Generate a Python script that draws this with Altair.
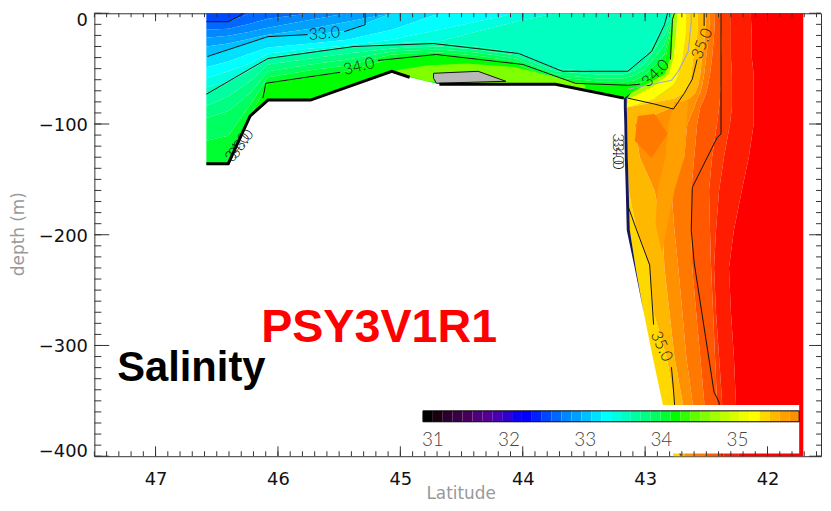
import altair as alt
import pandas as pd

# ---------------- colour levels (as on the colour bar) ----------------
LEVELS = [30.87, 31.00, 31.13, 31.26, 31.39, 31.52, 31.65, 31.78, 31.91, 32.04,
          32.17, 32.30, 32.43, 32.56, 32.69, 32.82, 32.95, 33.08, 33.21, 33.34,
          33.47, 33.60, 33.73, 33.86, 33.99, 34.12, 34.25, 34.38, 34.51, 34.64,
          34.77, 34.90, 35.03, 35.16, 35.29, 35.42, 35.55, 35.68]
BAR_END = 35.81
PALETTE = ["#000000", "#1a0010", "#2b0030", "#3a0045", "#46005a", "#50007a", "#550090", "#4a00b0", "#3000d0", "#1000f0",
           "#0000ff", "#0020ff", "#0048ff", "#0068ff", "#0088ff", "#00a0ff", "#00c0ff", "#00e0ff", "#00ffff", "#00ffe0",
           "#00ffc0", "#00ffa0", "#00ff80", "#00ff60", "#00ff30", "#00ff00", "#30ff00", "#60ff00", "#80ff00", "#a0ff00",
           "#c0ff00", "#d8ff00", "#f0ff00", "#ffff00", "#ffd800", "#ffb800", "#ffa000", "#ff9000"]
EXTRA_LEVELS = [35.81, 35.94, 36.07, 36.20, 36.33]
EXTRA_COLORS = ["#ff7800", "#ff5800", "#ff3c00", "#ff1c00", "#ff0000"]
CBAR_LABELS = [31, 32, 33, 34, 35]

# ---------------- shelf: iso-salinity layers (depth at each latitude node) ----------------
SHELF_LAT = [46.585, 46.406, 46.228, 46.082, 45.734, 45.434, 45.070, 44.924, 44.681, 44.381,
             44.057, 43.733, 43.409, 43.174, 43.085, 43.004, 42.923, 42.842, 42.761]
SURF = [0.0] * 19
A = [-7.6, -7.6] + [0.0] * 17
A2 = [-14.8, -13.9, -9.4, -4.9] + [0.0] * 15
A3 = [-22.0, -20.2, -16.6, -13.0, -5.8] + [0.0] * 14
A4 = [-30.0, -27.3, -22.9, -19.3, -13.9, -7.6] + [0.0] * 13
B = [-39.0, -32.7, -26.4, -21.1, -19.3, -15.7] + [0.0] * 13
G = [-48.8, -43.5, -36.3, -30.9, -27.3, -23.8, -14.8, -9.4] + [0.0] * 11
F = [-58.7, -52.4, -45.3, -36.3, -31.8, -29.1, -23.8, -20.2, -14.8, -7.6] + [0.0] * 9
F2 = [-66.8, -61.4, -50.7, -39.9, -34.5, -30.0, -27.3, -26.4, -25.5, -16.6, -7.6] + [0.0] * 8
C = [-73.1, -62.3, -51.5, -40.8, -35.4, -30.9, -29.1, -28.2, -27.3, -30.0,
     -35.4, -49.8, -52.4, -52.4, -47.1, -39.9, -25.5, -10.3, 0.0]
C2 = [-83.8, -74.9, -61.4, -46.2, -40.8, -36.3, -31.8, -30.9, -30.0, -32.7,
      -38.1, -52.4, -55.1, -55.1, -51.5, -45.3, -32.7, -19.3, 0.0]
E = [-94.6, -88.3, -72.2, -52.4, -46.2, -41.7, -34.5, -33.6, -32.7, -35.4,
     -40.8, -55.1, -58.7, -58.7, -56.0, -50.7, -39.9, -28.2, 0.0]
E2 = [-115.2, -110.7, -82.9, -57.8, -51.5, -47.1, -37.2, -36.3, -35.4, -38.1,
      -43.5, -57.8, -61.4, -62.3, -60.5, -56.0, -47.1, -37.2, 0.0]
D = [-135.8, -135.8, -92.8, -63.2, -57.8, -52.4, -40.8, -39.9, -37.2, -40.8,
     -45.3, -60.5, -64.1, -65.0, -64.1, -61.4, -54.2, -45.3, 0.0]
BOTTOM = [-135.8, -135.8, -92.8, -78.4, -78.4, -66.8, -52.4, -57.8, -64.1, -64.1,
          -64.1, -64.1, -71.3, -76.6, -76.6, -76.6, -76.6, -76.6, -76.6]
SHELF_BOUNDS = [SURF, A, A2, A3, A4, B, G, F, F2, C, C2, E, E2, D, BOTTOM]
SHELF_SAL = [32.49, 32.62, 32.75, 32.88, 33.01, 33.14, 33.27, 33.40, 33.53, 33.66, 33.79, 33.92, 34.05, 34.18]

# small patches on the shelf
YG_LAT = [45.029, 44.786, 44.462, 44.057, 43.733, 43.490]
YG_TOP = [-51.5, -47.1, -45.3, -48.8, -57.8, -65.0]
YG_BOT = [-54.0, -61.4, -64.1, -64.1, -64.1, -69.1]
YG_SAL = 34.57
GRAY_LAT = [44.729, 44.705, 44.365, 44.138]
GRAY_TOP = [-54.2, -54.1, -52.4, -61.4]
GRAY_BOT = [-58.7, -63.2, -62.3, -61.4]

# ---------------- slope: bands (latitude of each band edge at each depth) ----------------
SLOPE_DEPTH = [0, -20, -40, -55, -65, -72, -77, -85, -100, -130, -160, -196, -230, -270, -310, -350, -400]
SS = [42.777, 42.777, 42.793, 42.842, 43.004, 43.117, 43.174, 43.174, 43.170, 43.166, 43.158, 43.150, 43.085, 43.012, 42.939, 42.862, 42.769]
B0E = [42.777, 42.777, 42.793, 42.842, 43.004, 43.117, 43.150, 43.150, 43.146, 43.142, 43.134, 43.125, 43.077, 43.012, 42.939, 42.862, 42.769]
B1E = [42.737, 42.745, 42.769, 42.809, 42.923, 43.044, 43.134, 43.150, 43.146, 43.142, 43.134, 43.125, 43.077, 43.012, 42.939, 42.862, 42.769]
B2E = [42.664, 42.672, 42.696, 42.729, 42.769, 42.858, 42.923, 43.150, 43.146, 43.142, 43.134, 43.125, 43.077, 43.012, 42.939, 42.862, 42.769]
B3E = [42.567, 42.575, 42.607, 42.623, 42.639, 42.680, 42.761, 43.150, 43.146, 43.142, 43.134, 43.069, 42.963, 42.931, 42.826, 42.761, 42.712]
B4E = [42.502, 42.510, 42.534, 42.550, 42.567, 42.591, 42.639, 42.785, 43.085, 43.044, 42.923, 42.858, 42.842, 42.801, 42.761, 42.696, 42.680]
B5E = [42.470, 42.478, 42.502, 42.518, 42.534, 42.550, 42.575, 42.599, 42.656, 42.680, 42.785, 42.761, 42.729, 42.696, 42.664, 42.615, 42.599]
B6E = [42.429, 42.437, 42.453, 42.470, 42.486, 42.502, 42.518, 42.550, 42.575, 42.599, 42.623, 42.623, 42.615, 42.583, 42.550, 42.518, 42.502]
B7E = [42.372, 42.372, 42.380, 42.380, 42.380, 42.388, 42.388, 42.396, 42.413, 42.453, 42.478, 42.470, 42.461, 42.445, 42.429, 42.413, 42.396]
B8E = [42.299, 42.299, 42.299, 42.291, 42.291, 42.291, 42.291, 42.291, 42.307, 42.356, 42.396, 42.421, 42.437, 42.421, 42.396, 42.372, 42.356]
B9E = [42.137, 42.129, 42.129, 42.113, 42.113, 42.113, 42.113, 42.113, 42.113, 42.153, 42.210, 42.275, 42.315, 42.299, 42.275, 42.259, 42.234]
B10E = [41.708] * 17
SLOPE_BOUNDS = [B0E, B1E, B2E, B3E, B4E, B5E, B6E, B7E, B8E, B9E, B10E]
SLOPE_SAL = [34.70, 35.22, 35.35, 35.48, 35.74, 35.87, 36.00, 36.13, 36.26, 36.40]
EDGE_COLOR = "#16165a"

# lighter orange tongue in the upper slope
TG_DEPTH = [-80, -100, -130, -160, -190, -215]
TG_LEFT = [42.761, 42.809, 42.834, 42.899, 42.915, 42.866]
TG_RIGHT = [42.648, 42.664, 42.680, 42.761, 42.817, 42.858]
TG_SAL = 35.61

# darker orange patch in the upper slope
SP_LAT = [43.085, 43.060, 42.947, 42.923, 42.817]
SP_TOP = [-115.2, -92.8, -91.2, -91.0, -108.9]
SP_BOT = [-115.2, -117.9, -130.4, -126.4, -108.9]
SP_SAL = 35.87

# ---------------- contour lines ----------------
CONTOURS = {
    "a": [(46.585, -7.6), (46.406, -7.6), (46.325, -3.1), (46.285, 0.0)],
    "b1": [(46.576, -39.0), (46.082, -21.1), (45.758, -19.3)],
    "b2": [(45.459, -16.6), (45.288, -10.3), (45.288, 0.0)],
    "c": [(46.585, -73.1), (46.082, -40.8), (45.677, -34.5), (45.378, -30.0), (44.729, -27.3), (44.033, -36.3),
          (43.676, -52.4), (43.142, -52.4), (42.947, -34.5), (42.842, -10.3), (42.817, 0.0)],
    "d1": [(46.123, -76.6), (46.099, -63.2), (45.491, -53.3)],
    "d2": [(45.183, -42.6), (44.705, -37.2), (44.000, -46.2), (43.571, -63.2), (43.142, -65.0), (43.044, -64.1)],
    "d3": [(42.793, -41.7), (42.777, -5.8), (42.761, 0.0)],
    "s1": [(42.518, 0.0), (42.518, -11.5)],
    "s2": [(42.575, -41.7), (42.615, -59.6), (42.680, -72.2), (42.769, -86.5), (42.923, -82.0), (43.142, -76.6)],
    "s3": [(43.142, -173.5), (43.069, -196.0), (42.963, -227.3), (42.931, -281.1)],
    "s4": [(42.785, -319.6), (42.769, -339.3), (42.745, -375.2), (42.712, -399.4)],
    "t1": [(42.380, 0.0), (42.380, -108.9), (42.413, -112.5), (42.615, -157.3), (42.623, -195.9),
           (42.599, -225.5), (42.437, -342.1), (42.396, -351.1), (42.372, -399.4)],
    "gp": [(44.729, -54.2), (44.365, -52.4), (44.138, -61.4), (44.705, -63.2), (44.729, -58.7), (44.729, -54.2)],
}
GRAY_CONTOUR = [(43.142, -68.6), (42.785, -60.5), (42.729, -52.4), (42.648, -34.5), (42.623, -7.6), (42.623, 0.0)]
SEABED = {
    "w1": [(46.585, -135.8), (46.406, -135.8), (46.228, -92.8), (46.082, -78.4), (45.734, -78.4), (45.070, -52.4), (44.924, -57.8)],
    "w2": [(44.681, -64.1), (43.733, -64.1), (43.174, -76.6)],
}
LAB_TEXT = ["33.0", "34.0", "34.0", "35.0", "35.0", "33.0", "34.0", "33.0", "34.0"]
LAB_LAT = [45.621, 45.337, 42.915, 42.534, 42.866, 46.301, 46.330, 43.223, 43.223]
LAB_DEP = [-18.4, -48.0, -54.2, -27.3, -300.8, -117.9, -121.0, -122.6, -127.0]
LAB_ANG = [355, 346, 315, 292, 65, 305, 305, 90, 90]

X_LABELS = [47, 46, 45, 44, 43, 42]
Y_LABELS = [0, -100, -200, -300, -400]
X_MINOR = [round(41.6 + 0.1 * i, 1) for i in range(60)]
Y_MINOR = list(range(-400, 1, 10))
TITLE_RED = "PSY3V1R1"
TITLE_BLACK = "Salinity"

# ---------------- build ----------------
W, H = 732, 446.2
thr = alt.Scale(type="threshold", domain=LEVELS[1:] + EXTRA_LEVELS, range=PALETTE + EXTRA_COLORS)
xs = alt.Scale(domain=[47.5, 41.563], nice=False, zero=False)
ys = alt.Scale(domain=[-400, 0], nice=False, zero=False)

x_axis = alt.Axis(values=X_LABELS, format="d", labelFont="DejaVu Sans", labelFontSize=18, labelColor="#111",
                  labelPadding=15, ticks=False, domain=False, grid=False, title="Latitude",
                  titleFont="DejaVu Sans", titleFontWeight="normal", titleFontSize=17, titleColor="#999",
                  titleX=369, titleY=38, titleBaseline="middle", titleAlign="center")
y_axis = alt.Axis(values=Y_LABELS, format="d", labelFont="DejaVu Sans", labelFontSize=18, labelColor="#111",
                  labelPadding=7, ticks=False, domain=False, grid=False,
                  labelOffset={"condition": [{"test": "datum.value === 0", "value": 7},
                                             {"test": "datum.value === -400", "value": -5}],
                               "value": 1.5},
                  title="depth (m)",
                  titleFont="DejaVu Sans", titleFontWeight="normal", titleFontSize=17, titleColor="#999",
                  titleX=-76, titleY=222, titleAngle=270, titleBaseline="middle", titleAlign="center")

rows = []
for b, s in enumerate(SHELF_SAL):
    for j, lat in enumerate(SHELF_LAT):
        rows.append(dict(band=b, lat=lat, top=SHELF_BOUNDS[b][j], bot=SHELF_BOUNDS[b + 1][j], sal=s))
shelf_df = pd.DataFrame(rows)

shelf = alt.Chart(shelf_df).mark_area(orient="vertical").encode(
    x=alt.X("lat:Q", scale=xs, axis=x_axis),
    y=alt.Y("top:Q", scale=ys, axis=y_axis),
    y2="bot:Q",
    detail="band:N",
    fill=alt.Fill("sal:Q", scale=thr, legend=None),
)

yg = alt.Chart(pd.DataFrame({"lat": YG_LAT, "top": YG_TOP, "bot": YG_BOT, "sal": [YG_SAL] * len(YG_LAT)})).mark_area(
    orient="vertical").encode(
    x=alt.X("lat:Q", scale=xs), y=alt.Y("top:Q", scale=ys), y2="bot:Q",
    fill=alt.Fill("sal:Q", scale=thr, legend=None))

gray = alt.Chart(pd.DataFrame({"lat": GRAY_LAT, "top": GRAY_TOP, "bot": GRAY_BOT})).mark_area(
    orient="vertical", color="#b8b8b8").encode(
    x=alt.X("lat:Q", scale=xs), y=alt.Y("top:Q", scale=ys), y2="bot:Q")

rows = []
for k, s in enumerate(SLOPE_SAL):
    for j, d in enumerate(SLOPE_DEPTH):
        rows.append(dict(band=k, depth=d, left=SLOPE_BOUNDS[k][j], right=SLOPE_BOUNDS[k + 1][j], sal=s))
slope_df = pd.DataFrame(rows)
slope = alt.Chart(slope_df).mark_area(orient="horizontal").encode(
    y=alt.Y("depth:Q", scale=ys),
    x=alt.X("left:Q", scale=xs),
    x2="right:Q",
    detail="band:N",
    fill=alt.Fill("sal:Q", scale=thr, legend=None),
)
edge = alt.Chart(pd.DataFrame({"depth": SLOPE_DEPTH, "left": SS, "right": B0E})).mark_area(
    orient="horizontal", color=EDGE_COLOR).encode(
    y=alt.Y("depth:Q", scale=ys), x=alt.X("left:Q", scale=xs), x2="right:Q")

tongue = alt.Chart(pd.DataFrame({"depth": TG_DEPTH, "left": TG_LEFT, "right": TG_RIGHT,
                                 "sal": [TG_SAL] * len(TG_DEPTH)})).mark_area(orient="horizontal").encode(
    y=alt.Y("depth:Q", scale=ys), x=alt.X("left:Q", scale=xs), x2="right:Q",
    fill=alt.Fill("sal:Q", scale=thr, legend=None))

spatch = alt.Chart(pd.DataFrame({"lat": SP_LAT, "top": SP_TOP, "bot": SP_BOT, "sal": [SP_SAL] * len(SP_LAT)})).mark_area(
    orient="vertical").encode(
    x=alt.X("lat:Q", scale=xs), y=alt.Y("top:Q", scale=ys), y2="bot:Q",
    fill=alt.Fill("sal:Q", scale=thr, legend=None))


def seg_df(segs):
    r = []
    for name, pts in segs.items():
        for i, (la, de) in enumerate(pts):
            r.append(dict(seg=name, i=i, lat=la, depth=de))
    return pd.DataFrame(r)


def line_layer(df, **kw):
    return alt.Chart(df).mark_line(**kw).encode(
        x=alt.X("lat:Q", scale=xs), y=alt.Y("depth:Q", scale=ys),
        detail="seg:N", order="i:Q")


contours = line_layer(seg_df(CONTOURS), color="#111", strokeWidth=1)
graycont = line_layer(seg_df({"g": GRAY_CONTOUR}), color="#a8a8c8", strokeWidth=1.2)
seabed = line_layer(seg_df(SEABED), color="#000", strokeWidth=3)

labels = alt.Chart(pd.DataFrame({"t": LAB_TEXT, "lat": LAB_LAT, "depth": LAB_DEP, "ang": LAB_ANG})).mark_text(
    font="Lato", fontSize=16, fontWeight=300, color="#111", align="center", baseline="middle").encode(
    x=alt.X("lat:Q", scale=xs), y=alt.Y("depth:Q", scale=ys),
    text="t:N", angle=alt.Angle("ang:Q", scale=None))

t_red = alt.Chart(pd.DataFrame({"t": [TITLE_RED]})).mark_text(
    font="Liberation Sans", fontWeight="bold", fontSize=47, color="#ff0000", align="left", baseline="alphabetic").encode(
    text="t:N", x=alt.value(168), y=alt.value(331.5))
t_black = alt.Chart(pd.DataFrame({"t": [TITLE_BLACK]})).mark_text(
    font="Liberation Sans", fontWeight="bold", fontSize=42, color="#000000", align="left", baseline="alphabetic").encode(
    text="t:N", x=alt.value(23), y=alt.value(370.5))

main = alt.layer(shelf, yg, gray, slope, edge, tongue, spatch, contours, graycont, seabed, labels, t_red, t_black)

# ---------------- colour bar ----------------
cbs = alt.Scale(domain=[LEVELS[0], BAR_END], range=[331, 710], nice=False, zero=False)
cb_df = pd.DataFrame({"lo": LEVELS, "hi": LEVELS[1:] + [BAR_END]})
cb_box = alt.Chart(pd.DataFrame({"a": [LEVELS[0]], "b": [BAR_END]})).mark_rect(color="white").encode(
    x=alt.X("a:Q", scale=cbs, axis=None), x2="b:Q", y=alt.value(394.5), y2=alt.value(443.5))
cb_rect = alt.Chart(cb_df).mark_rect().encode(
    x=alt.X("lo:Q", scale=cbs, axis=None), x2="hi:Q", y=alt.value(400.5), y2=alt.value(411.5),
    fill=alt.Fill("lo:Q", scale=thr, legend=None))
cb_out = alt.Chart(pd.DataFrame({"a": [LEVELS[0]], "b": [BAR_END]})).mark_rect(
    fill="transparent", stroke="#000", strokeWidth=1).encode(
    x=alt.X("a:Q", scale=cbs, axis=None), x2="b:Q", y=alt.value(400.5), y2=alt.value(411.5))
cb_lab = alt.Chart(pd.DataFrame({"v": CBAR_LABELS})).mark_text(
    font="Lato", fontWeight=300, fontSize=19, color="#444", baseline="middle", align="center").encode(
    x=alt.X("v:Q", scale=cbs, axis=None), y=alt.value(429.5), text="v:Q")
cbar = alt.layer(cb_box, cb_rect, cb_out, cb_lab)

# ---------------- inward ticks ----------------
xmin_df = pd.DataFrame({"v": X_MINOR})
xmaj_df = pd.DataFrame({"v": X_LABELS})
ymin_df = pd.DataFrame({"v": Y_MINOR})
ymaj_df = pd.DataFrame({"v": Y_LABELS})


def xt(df, y0, y1):
    return alt.Chart(df).mark_rule(color="#333", strokeWidth=1).encode(
        x=alt.X("v:Q", scale=xs, axis=None), y=alt.value(y0), y2=alt.value(y1))


def yt(df, x0, x1):
    return alt.Chart(df).mark_rule(color="#333", strokeWidth=1).encode(
        y=alt.Y("v:Q", scale=ys), x=alt.value(x0), x2=alt.value(x1))


ticks = alt.layer(
    xt(xmin_df, H, H - 5), xt(xmaj_df, H, H - 10), xt(xmin_df, 0, 4), xt(xmaj_df, 0, 8),
    yt(ymin_df, 0, 7), yt(ymaj_df, 0, 15), yt(ymin_df, W, W - 5), yt(ymaj_df, W, W - 12),
)

chart = alt.layer(main, cbar, ticks).resolve_scale(x="independent").properties(
    width=W, height=H,
    padding={"left": 87, "top": 3.5, "right": 2, "bottom": 45},
    autosize=alt.AutoSizeParams(type="none"),
).configure_view(stroke="#333", strokeWidth=1)

chart.save("out.html", embed_options={"renderer": "svg", "actions": False})
